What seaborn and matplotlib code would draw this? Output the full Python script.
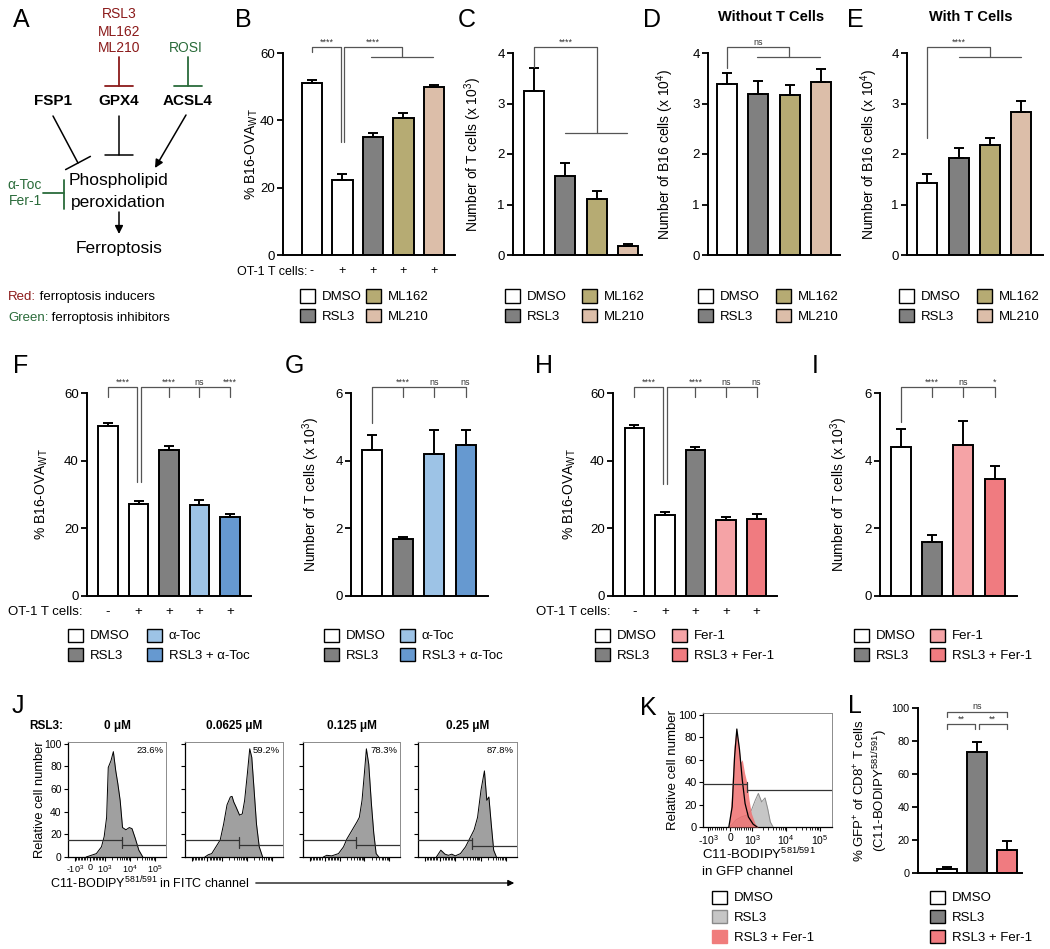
import numpy as np
import pandas as pd
import matplotlib
matplotlib.use("Agg")
import matplotlib.pyplot as plt
from matplotlib.patches import Patch
import seaborn as sns

# ============================== DATA ==============================
# B-E: GPX4 inhibitors
gpx_names = ['DMSO', 'RSL3', 'ML162', 'ML210']
b_conditions = ['DMSO -', 'DMSO +', 'RSL3', 'ML162', 'ML210']
b_ot1 = ['-', '+', '+', '+', '+']
b_mean = [51.0, 22.3, 35.0, 40.8, 49.9]
b_err = [1.0, 1.7, 1.2, 1.5, 0.6]
c_mean = [3.25, 1.56, 1.10, 0.17]
c_err = [0.46, 0.26, 0.17, 0.05]
d_mean = [3.39, 3.19, 3.17, 3.43]
d_err = [0.21, 0.25, 0.20, 0.25]
e_mean = [1.43, 1.93, 2.17, 2.84]
e_err = [0.17, 0.19, 0.15, 0.21]

# F-G: alpha-tocopherol rescue
toc_names = ['DMSO', 'RSL3', 'α-Toc', 'RSL3 + α-Toc']
f_conditions = ['DMSO -', 'DMSO +', 'RSL3', 'α-Toc', 'RSL3 + α-Toc']
f_mean = [50.1, 27.1, 43.3, 27.0, 23.4]
f_err = [0.9, 0.9, 0.9, 1.5, 0.9]
g_mean = [4.33, 1.68, 4.21, 4.47]
g_err = [0.42, 0.07, 0.69, 0.43]

# H-I: ferrostatin-1 rescue
fer_names = ['DMSO', 'RSL3', 'Fer-1', 'RSL3 + Fer-1']
h_conditions = ['DMSO -', 'DMSO +', 'RSL3', 'Fer-1', 'RSL3 + Fer-1']
h_mean = [49.6, 23.8, 43.1, 22.6, 22.9]
h_err = [1.0, 1.1, 0.8, 0.8, 1.3]
i_mean = [4.40, 1.60, 4.45, 3.47]
i_err = [0.55, 0.20, 0.71, 0.36]

# J: C11-BODIPY histograms per RSL3 dose (fluorescence, % of max)
j_doses = ['0 μM', '0.0625 μM', '0.125 μM', '0.25 μM']
j_pct = ['23.6%', '59.2%', '78.3%', '87.8%']
j0_x = [-250, 90, 430, 770, 950, 1170, 1360, 1750, 2180, 2720, 3280, 4080, 5080, 6950, 9500, 12200, 16700, 22900, 33000]
j0_y = [0, 1.5, 3, 9, 18, 35, 79, 85, 93, 76, 65, 50, 26, 24, 26, 25, 16, 6, 0]
j1_x = [-135, 90, 320, 885, 1170, 1600, 2180, 2550, 2990, 3710, 5080, 6530, 8130, 10450, 13000, 15700, 19500, 24300, 31300, 42800]
j1_y = [0, 2, 3, 15, 29, 46, 53, 53.5, 48.5, 44, 37, 38, 50, 73.5, 95.5, 88, 59, 29, 9, 0]
j2_x = [-90, 136, 476, 930, 1450, 1990, 2720, 3710, 5080, 6330, 8130, 10100, 12200, 15200, 19500, 24300, 30300, 38900]
j2_y = [0, 1.5, 1, 3, 9, 16, 21, 26, 31, 35, 50, 73.5, 95.5, 82, 47, 21, 3, 0]
j3_x = [-250, 45, 320, 545, 770, 1000, 1600, 2550, 4080, 5580, 7640, 10450, 14300, 17800, 21500, 26700, 33300, 42800]
j3_y = [0, 6, 2.5, 1.5, 2.5, 1, 3, 9, 18, 24, 35, 59, 76, 50, 53, 29, 6, 0]
j_gate_x = 4800
j_gate_levels = [(15.3, 10.3), (15.3, 10.3), (15.3, 10.3), (14.7, 9.7)]

# K: GFP channel histograms
k_names = ['DMSO', 'RSL3', 'RSL3 + Fer-1']
k_dmso_x = [-60, 90, 200, 300, 420, 545, 670, 820, 1050, 1380]
k_dmso_y = [0, 18, 63, 87.5, 69, 42, 21, 9, 2.5, 0]
k_fer_x = [-60, 45, 170, 270, 380, 470, 545, 650, 760, 850, 955, 1200, 1470]
k_fer_y = [0, 24, 72, 88, 75, 58, 60, 48, 39, 24, 12, 3, 0]
k_rsl3_x = [-30, 120, 270, 500, 730, 955, 1220, 1500, 1880, 2370, 2840, 3400, 4100]
k_rsl3_y = [0, 3, 6.5, 9, 10.5, 15, 24, 30, 22.4, 26, 16.4, 4.5, 0]
k_gate_x = 760
k_gate_levels = (38.0, 33.4)

# L
l_names = ['DMSO', 'RSL3', 'RSL3 + Fer-1']
l_mean = [2.2, 73.5, 13.9]
l_err = [1.6, 5.7, 5.7]

# ============================== STYLE ==============================
sns.set_theme(style='ticks')
plt.rcParams['font.family'] = ['Liberation Sans', 'DejaVu Sans']
plt.rcParams['mathtext.fontset'] = 'custom'
plt.rcParams['mathtext.rm'] = 'Liberation Sans'
plt.rcParams['mathtext.it'] = 'Liberation Sans:italic'
plt.rcParams['mathtext.bf'] = 'Liberation Sans:bold'
plt.rcParams['mathtext.default'] = 'regular'
plt.rcParams.update({'axes.edgecolor': 'black', 'xtick.color': 'black', 'ytick.color': 'black',
                     'text.color': 'black', 'axes.labelcolor': 'black', 'font.size': 9.5})

pal = {'DMSO': '#ffffff', 'DMSO -': '#ffffff', 'DMSO +': '#ffffff', 'RSL3': '#808080',
       'ML162': '#b6ab73', 'ML210': '#dcbea9', 'α-Toc': '#9dc3e6', 'RSL3 + α-Toc': '#6699d0',
       'Fer-1': '#f5a3a6', 'RSL3 + Fer-1': '#f07b80'}
red = '#8b1a1a'
green = '#2a6b3a'
TICK_FS = 9.5
LAB_FS = 10
LEG_FS = 9.5

W, H = 1050, 949
fig = plt.figure(figsize=(W / 100, H / 100), dpi=100)


def px_axes(box):
    x0, y0, x1, y1 = box
    return fig.add_axes([x0 / W, 1 - y1 / H, (x1 - x0) / W, (y1 - y0) / H])


def bracket(ax, xs, ys):
    ax.plot(xs, ys, color='#555555', lw=0.9, clip_on=False, zorder=5)


def sig(ax, x, y, s):
    ax.annotate(s, xy=(x, y), xytext=(0, 0.3), textcoords='offset points', ha='center',
                va='bottom', fontsize=6.5, color='#333333', annotation_clip=False)


def bar_panel(box, conds, means, errs, ymax, ystep, ylabel, xlim, label_cx, width=0.64,
              tick_fs=TICK_FS, lab_fs=LAB_FS):
    ax = px_axes(box)
    df = pd.DataFrame({'cond': conds, 'value': means})
    sns.barplot(data=df, x='cond', y='value', hue='cond', palette=pal, dodge=False,
                legend=False, width=width, saturation=1, edgecolor='black', linewidth=1.4, ax=ax)
    pos = np.arange(len(means))
    ax.errorbar(pos, means, yerr=[np.zeros(len(errs)), errs], fmt='none', ecolor='black',
                elinewidth=1.4, capsize=3.5, capthick=1.4, zorder=4)
    ax.set_xlim(*xlim)
    ax.set_ylim(0, ymax)
    ax.set_yticks(np.arange(0, ymax + ystep / 2, ystep))
    ax.set_xlabel('')
    ax.set_ylabel(ylabel, fontsize=lab_fs)
    ax.yaxis.set_label_coords((label_cx + 7.5 - box[0]) / (box[2] - box[0]), 0.5)
    ax.set_xticks(pos)
    ax.set_xticklabels([])
    ax.tick_params(axis='x', length=0)
    ax.tick_params(axis='y', length=4, width=1.3, pad=2, labelsize=tick_fs)
    sns.despine(ax=ax)
    for s in ['left', 'bottom']:
        ax.spines[s].set_linewidth(1.4)
    return ax


def ot1_row(ax, marks, right_x, row_y, fs):
    ax.set_xticklabels(marks, fontsize=fs)
    ax.tick_params(axis='x', pad=7)
    fig.text(right_x / W, 1 - row_y / H, 'OT-1 T cells:', ha='right', va='center', fontsize=fs)


def legend_col(names, x, y, handles=None):
    if handles is None:
        handles = [Patch(facecolor=pal[n], edgecolor='black', linewidth=1.0) for n in names]
    fig.legend(handles=handles, labels=names, loc='upper left',
               bbox_to_anchor=(x / W, 1 - (y - 7.5) / H), frameon=False, borderpad=0,
               borderaxespad=0, handlelength=1.14, handleheight=1.14, handletextpad=0.5,
               labelspacing=0.45, fontsize=LEG_FS)


def panel_letter(s, x, y):
    fig.text(x / W, 1 - y / H, s, fontsize=18, va='baseline', ha='left')


# ============================== A: pathway ==============================
ax_a = px_axes((0, 0, 232, 340))
ax_a.set_xlim(0, 232)
ax_a.set_ylim(340, 0)
ax_a.axis('off')
for txt, yy in zip(['RSL3', 'ML162', 'ML210'], [14, 32, 48]):
    ax_a.text(119, yy, txt, color=red, ha='center', va='center', fontsize=10)
ax_a.text(186, 48, 'ROSI', color=green, ha='center', va='center', fontsize=10)
ax_a.plot([119, 119], [57, 86], color=red, lw=1.3)
ax_a.plot([105, 133], [86, 86], color=red, lw=1.3)
ax_a.plot([188, 188], [57, 86], color=green, lw=1.3)
ax_a.plot([174, 202], [86, 86], color=green, lw=1.3)
for txt, xx in zip(['FSP1', 'GPX4', 'ACSL4'], [53, 119, 188]):
    ax_a.text(xx, 101, txt, ha='center', va='center', fontsize=11, fontweight='bold')
ax_a.plot([53, 78], [116, 163], color='black', lw=1.1)
ax_a.plot([65.6, 90.4], [169.6, 156.4], color='black', lw=1.1)
ax_a.plot([119, 119], [116, 155], color='black', lw=1.1)
ax_a.plot([105, 133], [155, 155], color='black', lw=1.1)
ax_a.annotate('', xy=(155, 168), xytext=(186, 115),
              arrowprops=dict(arrowstyle='-|>', color='black', lw=1.1, mutation_scale=12,
                              shrinkA=0, shrinkB=0))
ax_a.text(119, 180, 'Phospholipid', ha='center', va='center', fontsize=12.5)
ax_a.text(118, 202, 'peroxidation', ha='center', va='center', fontsize=12.5)
ax_a.text(25, 185, 'α-Toc', color=green, ha='center', va='center', fontsize=10)
ax_a.text(25, 201, 'Fer-1', color=green, ha='center', va='center', fontsize=10)
ax_a.plot([43, 64], [193, 193], color=green, lw=1.3)
ax_a.plot([64, 64], [180, 209], color=green, lw=1.3)
ax_a.annotate('', xy=(119, 234), xytext=(119, 212),
              arrowprops=dict(arrowstyle='-|>', color='black', lw=1.1, mutation_scale=12,
                              shrinkA=0, shrinkB=0))
ax_a.text(119, 248, 'Ferroptosis', ha='center', va='center', fontsize=12.5)
t_red = ax_a.text(8, 297, 'Red:', color=red, ha='left', va='center', fontsize=9.5)
ax_a.annotate(' ferroptosis inducers', xy=(1, 0), xycoords=t_red, va='bottom', fontsize=9.5)
t_green = ax_a.text(8, 318, 'Green:', color=green, ha='left', va='center', fontsize=9.5)
ax_a.annotate(' ferroptosis inhibitors', xy=(1, 0), xycoords=t_green, va='bottom', fontsize=9.5)

# ============================== B-E ==============================
ax_b = bar_panel((283, 53, 455, 255), b_conditions, b_mean, b_err, 60, 20,
                 '% B16-OVA$_{WT}$', (-0.95, 4.69), 252, width=0.66)
ot1_row(ax_b, b_ot1, 307, 272, 9)
bracket(ax_b, [0, 0, 0.96, 0.96], [60.2, 61.7, 61.7, 33.5])
bracket(ax_b, [1.06, 1.06, 2.95, 2.95], [33.5, 61.7, 61.7, 58.8])
bracket(ax_b, [1.95, 3.97], [58.8, 58.8])
sig(ax_b, 0.48, 61.7, '****')
sig(ax_b, 2.0, 61.7, '****')

ax_c = bar_panel((513, 53, 642, 255), gpx_names, c_mean, c_err, 4, 1,
                 'Number of T cells (x 10$^3$)', (-0.68, 3.45), 477)
bracket(ax_c, [0, 0, 2, 2], [3.72, 4.12, 4.12, 2.42])
bracket(ax_c, [0.97, 2.97], [2.42, 2.42])
sig(ax_c, 1.0, 4.12, '****')

ax_d = bar_panel((708, 53, 840, 255), gpx_names, d_mean, d_err, 4, 1,
                 'Number of B16 cells (x 10$^4$)', (-0.6, 3.59), 669)
bracket(ax_d, [0, 0, 1.97, 1.97], [3.7, 4.12, 4.12, 3.92])
bracket(ax_d, [0.95, 2.95], [3.92, 3.92])
sig(ax_d, 0.98, 4.12, 'ns')
fig.text(771 / W, 1 - 17 / H, 'Without T Cells', ha='center', va='center', fontsize=10.5,
         fontweight='bold')

ax_e = bar_panel((907, 53, 1043, 255), gpx_names, e_mean, e_err, 4, 1,
                 'Number of B16 cells (x 10$^4$)', (-0.65, 3.69), 873)
bracket(ax_e, [0, 0, 2, 2], [2.32, 4.12, 4.12, 3.92])
bracket(ax_e, [1, 3], [3.92, 3.92])
sig(ax_e, 1.0, 4.12, '****')
fig.text(971 / W, 1 - 17 / H, 'With T Cells', ha='center', va='center', fontsize=10.5,
         fontweight='bold')

for x1, x2 in [(300, 366), (505, 582), (698, 776), (899, 977)]:
    legend_col(gpx_names[:2], x1, 297)
    legend_col(gpx_names[2:], x2, 297)

# ============================== F-I ==============================
ax_f = bar_panel((87, 393, 251, 596), f_conditions, f_mean, f_err, 60, 20,
                 '% B16-OVA$_{WT}$', (-0.69, 4.69), 43)
ot1_row(ax_f, b_ot1, 82, 612, 9.5)
bracket(ax_f, [0, 0, 0.95, 0.95], [58.8, 61.7, 61.7, 33.7])
bracket(ax_f, [1.08, 1.08, 4, 4], [33.7, 61.7, 61.7, 58.8])
for xx in [2, 3]:
    bracket(ax_f, [xx, xx], [61.7, 58.8])
for xx, s in zip([0.475, 2, 3, 4], ['****', '****', 'ns', '****']):
    sig(ax_f, xx, 61.7, s)

ax_g = bar_panel((351, 393, 488, 596), toc_names, g_mean, g_err, 6, 2,
                 'Number of T cells (x 10$^3$)', (-0.67, 3.72), 315)
bracket(ax_g, [0, 0, 3, 3], [5.11, 6.17, 6.17, 5.88])
for xx in [1, 2]:
    bracket(ax_g, [xx, xx], [6.17, 5.88])
for xx, s in zip([1, 2, 3], ['****', 'ns', 'ns']):
    sig(ax_g, xx, 6.17, s)

ax_h = bar_panel((613, 393, 777, 596), h_conditions, h_mean, h_err, 60, 20,
                 '% B16-OVA$_{WT}$', (-0.7, 4.67), 570)
ot1_row(ax_h, b_ot1, 610, 612, 9.5)
bracket(ax_h, [0, 0, 0.95, 0.95], [58.8, 61.7, 61.7, 33.2])
bracket(ax_h, [1.08, 1.08, 4, 4], [33.2, 61.7, 61.7, 58.8])
for xx in [2, 3]:
    bracket(ax_h, [xx, xx], [61.7, 58.8])
for xx, s in zip([0.475, 2, 3, 4], ['****', '****', 'ns', 'ns']):
    sig(ax_h, xx, 61.7, s)

ax_i = bar_panel((880, 393, 1017, 596), fer_names, i_mean, i_err, 6, 2,
                 'Number of T cells (x 10$^3$)', (-0.67, 3.72), 843)
bracket(ax_i, [0, 0, 3, 3], [5.14, 6.17, 6.17, 5.88])
for xx in [1, 2]:
    bracket(ax_i, [xx, xx], [6.17, 5.88])
for xx, s in zip([1, 2, 3], ['****', 'ns', '*']):
    sig(ax_i, xx, 6.17, s)

legend_col(toc_names[:2], 68, 636)
legend_col(toc_names[2:], 147, 636)
legend_col(toc_names[:2], 324, 636)
legend_col(toc_names[2:], 400, 636)
legend_col(fer_names[:2], 595, 636)
legend_col(fer_names[2:], 672, 636)
legend_col(fer_names[:2], 854, 636)
legend_col(fer_names[2:], 930, 636)

# ============================== J / K: flow histograms ==============================
flow_major = [-1000, 0, 1000, 1e4, 1e5]
flow_labels = ['-10$^3$', '0', '10$^3$', '10$^4$', '10$^5$']
flow_minor = ([-k * 100 for k in range(2, 10)] + [k * 100 for k in range(2, 10)]
              + [k * 10 ** d for d in (3, 4) for k in range(2, 10)])


def flow_axes(box, linscale, xlim, ymax, show_labels, xfs, yfs):
    ax = px_axes(box)
    ax.set_xscale('symlog', linthresh=1000, linscale=linscale)
    ax.set_xlim(*xlim)
    ax.set_ylim(0, ymax)
    ax.set_yticks(range(0, 101, 20))
    ax.set_xticks(flow_major)
    ax.set_xticks(flow_minor, minor=True)
    ax.xaxis.set_minor_formatter(plt.NullFormatter())
    if show_labels:
        ax.set_xticklabels(flow_labels)
    else:
        ax.set_xticklabels([])
        ax.set_yticklabels([])
    for s in ['top', 'right']:
        ax.spines[s].set_color('#8c8c8c')
        ax.spines[s].set_linewidth(0.7)
    for s in ['left', 'bottom']:
        ax.spines[s].set_linewidth(0.9)
    ax.tick_params(axis='both', which='major', length=3, width=0.8, pad=1.5)
    ax.tick_params(axis='x', which='major', labelsize=xfs)
    ax.tick_params(axis='y', which='major', labelsize=yfs)
    ax.tick_params(axis='x', which='minor', length=1.8, width=0.6)
    ax.set_xlabel('')
    return ax


def gate(ax, x0, x1, y, ticks):
    ax.plot([x0, x1], [y, y], color='#333333', lw=0.9, zorder=5)
    for xt in ticks:
        ax.plot([xt, xt], [y - 2.5, y + 2.5], color='#333333', lw=0.9, zorder=5)


j_boxes = [(68, 742, 166, 857), (185, 742, 283, 857), (303, 742, 400, 857), (418, 742, 517, 857)]
j_series = [(j0_x, j0_y), (j1_x, j1_y), (j2_x, j2_y), (j3_x, j3_y)]
j_xlim = (-1900, 2.8e5)
for k, (box, (hx, hy)) in enumerate(zip(j_boxes, j_series)):
    ax = flow_axes(box, 0.54, j_xlim, 101.5, k == 0, 6.5, 7.5)
    ax.fill_between(hx, hy, 0, color='#a0a0a0', lw=0, zorder=2)
    sns.lineplot(x=hx, y=hy, ax=ax, color='black', lw=0.7, sort=False, estimator=None, zorder=3)
    lo, hi = j_gate_levels[k]
    gate(ax, j_xlim[0], j_gate_x, lo, [j_gate_x])
    gate(ax, j_gate_x, j_xlim[1], hi, [j_gate_x])
    ax.text(0.97, 0.965, j_pct[k], transform=ax.transAxes, ha='right', va='top', fontsize=6.8,
            zorder=6)
    ax.set_title(j_doses[k], fontsize=8.5, fontweight='bold', pad=9)
    if k == 0:
        ax.set_ylabel('Relative cell number', fontsize=9.3)
        ax.yaxis.set_label_coords((39 + 7 - box[0]) / (box[2] - box[0]), 0.5)
fig.text(29 / W, 1 - 729 / H, 'RSL3:', fontsize=8.5, fontweight='bold', va='baseline')
fig.text(50 / W, 1 - 883 / H, 'C11-BODIPY$^{581/591}$ in FITC channel', fontsize=9,
         va='center', ha='left')
fig.add_artist(matplotlib.patches.FancyArrowPatch((253 / W, 1 - 883 / H), (517 / W, 1 - 883 / H),
                                                  transform=fig.transFigure, arrowstyle='-|>',
                                                  mutation_scale=9, lw=0.9, color='black'))

k_box = (703, 713, 832, 827)
k_xlim = (-1400, 2.3e5)
ax_k = flow_axes(k_box, 0.594, k_xlim, 101.8, True, 7.5, 8)
ax_k.fill_between(k_rsl3_x, k_rsl3_y, 0, color='#c6c6c6', lw=0, zorder=2)
sns.lineplot(x=k_rsl3_x, y=k_rsl3_y, ax=ax_k, color='#8a8a8a', lw=0.7, sort=False,
             estimator=None, zorder=3)
ax_k.fill_between(k_fer_x, k_fer_y, 0, color='#f07070', alpha=0.85, lw=0, zorder=4)
sns.lineplot(x=k_dmso_x, y=k_dmso_y, ax=ax_k, color='black', lw=0.9, sort=False,
             estimator=None, zorder=5)
gate(ax_k, k_xlim[0], k_gate_x, k_gate_levels[0], [k_gate_x])
gate(ax_k, k_gate_x, k_xlim[1], k_gate_levels[1], [k_gate_x])
ax_k.set_ylabel('Relative cell number', fontsize=9.5)
ax_k.yaxis.set_label_coords((672 + 7 - k_box[0]) / (k_box[2] - k_box[0]), 0.5)
fig.text(702 / W, 1 - 854 / H, 'C11-BODIPY$^{581/591}$', fontsize=9.5, va='center')
fig.text(702 / W, 1 - 872 / H, 'in GFP channel', fontsize=9.5, va='center')
k_handles = [Patch(facecolor='white', edgecolor='black', linewidth=1.0),
             Patch(facecolor='#c6c6c6', edgecolor='#8a8a8a', linewidth=1.0),
             Patch(facecolor='#f07c7c', edgecolor='#f07c7c', linewidth=1.0)]
legend_col(k_names, 712, 898, handles=k_handles)

# ============================== L ==============================
ax_l = bar_panel((918, 708, 1022, 873), l_names, l_mean, l_err, 100, 20,
                 '% GFP$^{+}$ of CD8$^{+}$ T cells\n(C11-BODIPY$^{581/591}$)', (-0.97, 2.5), 882,
                 width=0.67, tick_fs=7.8, lab_fs=9.5)
bracket(ax_l, [0, 0, 2, 2], [94.7, 97.8, 97.8, 94.7])
bracket(ax_l, [0, 0, 0.93, 0.93], [87, 90.1, 90.1, 87])
bracket(ax_l, [1.05, 1.05, 2, 2], [87, 90.1, 90.1, 87])
sig(ax_l, 1.0, 97.8, 'ns')
sig(ax_l, 0.465, 90.1, '**')
sig(ax_l, 1.525, 90.1, '**')
legend_col(l_names, 930, 898)

# ============================== panel letters ==============================
for s, x, y in [('A', 13, 27), ('B', 235, 27), ('C', 458, 27), ('D', 643, 27), ('E', 847, 27),
                ('F', 13, 373), ('G', 285, 373), ('H', 535, 373), ('I', 812, 373),
                ('J', 12, 713), ('K', 640, 715), ('L', 848, 713)]:
    panel_letter(s, x, y)

fig.savefig('out.png', dpi=100, facecolor='white')
